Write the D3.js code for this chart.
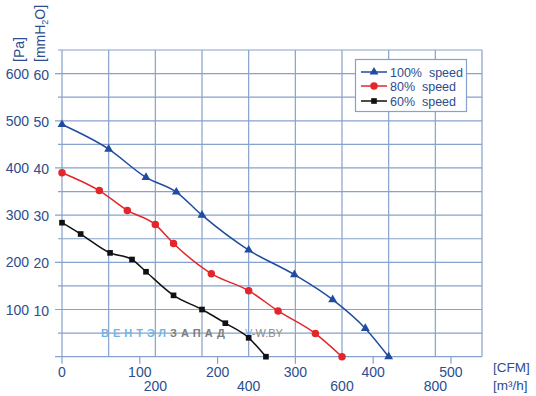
<!DOCTYPE html>
<html>
<head>
<meta charset="utf-8">
<script src="https://cdn.jsdelivr.net/npm/d3@7"></script>
<style>
  body { margin: 0; background: #fff; }
  svg { font-family: "Liberation Sans", Arial, sans-serif; }
</style>
</head>
<body>
<script>
// flow in m3/h, pressure in Pa
var flow100 = [0, 100, 180, 245, 300, 400, 498, 580, 650, 700];
var pres100 = [492, 440, 380, 349, 300, 226, 174, 121, 60, 0];
var flow80 = [0, 80, 140, 200, 239, 320, 400, 463, 543, 600];
var pres80 = [390, 352, 310, 280, 240, 176, 140, 97, 49, 0];
var flow60 = [0, 40, 103, 150, 180, 239, 300, 350, 400, 437];
var pres60 = [284, 260, 220, 206, 180, 130, 100, 71, 40, 0];

var paTicks = [100, 200, 300, 400, 500, 600];
var mmTicks = [10, 20, 30, 40, 50, 60];
var cfmTicks = [0, 100, 200, 300, 400, 500];
var m3hTicks = [200, 400, 600, 800];
var legendNames = ["100%  speed", "80%  speed", "60%  speed"];

var m3hPerCfm = 1.667;
var textColor = "#2c4d8e";
var gridColor = "#86a1cb";

var width = 536, height = 396;
var svg = d3.select("body").append("svg").attr("width", width).attr("height", height);

var x = d3.scaleLinear().domain([0, 900]).range([62, 482]);
var y = d3.scaleLinear().domain([0, 650]).range([356.7, 50]);

// grid
var grid = svg.append("g").attr("stroke", gridColor).attr("stroke-width", 1.2);
grid.selectAll(".v").data(d3.range(0, 901, 100)).enter().append("line")
    .attr("x1", function (d) { return x(d); }).attr("x2", function (d) { return x(d); })
    .attr("y1", y(650)).attr("y2", y(0));
grid.selectAll(".h").data(d3.range(0, 651, 50)).enter().append("line")
    .attr("x1", function (d) { return d % 100 === 0 ? 55 : 58; }).attr("x2", x(900))
    .attr("y1", function (d) { return y(d); }).attr("y2", function (d) { return y(d); });
grid.selectAll(".cfm").data(cfmTicks).enter().append("line")
    .attr("x1", function (d) { return x(d * m3hPerCfm); }).attr("x2", function (d) { return x(d * m3hPerCfm); })
    .attr("y1", y(0)).attr("y2", y(0) + 7);

// axis labels
var lbl = svg.append("g").attr("fill", textColor).attr("font-size", 14);
lbl.selectAll(".pa").data(paTicks).enter().append("text")
    .attr("x", 29).attr("y", function (d) { return y(d) + 5; })
    .attr("text-anchor", "end").text(function (d) { return d; });
lbl.selectAll(".mm").data(mmTicks).enter().append("text")
    .attr("x", 49).attr("y", function (d, i) { return y(paTicks[i]) + 6; })
    .attr("text-anchor", "end").text(function (d) { return d; });
lbl.selectAll(".cf").data(cfmTicks).enter().append("text")
    .attr("x", function (d) { return x(d * m3hPerCfm); }).attr("y", 377)
    .attr("text-anchor", "middle").text(function (d) { return d; });
lbl.selectAll(".m3").data(m3hTicks).enter().append("text")
    .attr("x", function (d) { return x(d); }).attr("y", 391)
    .attr("text-anchor", "middle").text(function (d) { return d; });

lbl.append("text").attr("transform", "translate(24,62) rotate(-90)").text("[Pa]");
var mmt = lbl.append("text").attr("transform", "translate(45,62) rotate(-90)");
mmt.append("tspan").text("[mmH");
mmt.append("tspan").attr("font-size", 9).attr("dy", 3).text("2");
mmt.append("tspan").attr("dy", -3).text("O]");
lbl.append("text").attr("x", 493).attr("y", 372).attr("font-size", 13.5).text("[CFM]");
lbl.append("text").attr("x", 493).attr("y", 390).attr("font-size", 13.5).text("[m\u00b3/h]");

// watermark
var wm = svg.append("text").attr("x", 101).attr("y", 337).attr("font-size", 11)
    .attr("font-weight", "bold").attr("letter-spacing", 4);
wm.append("tspan").attr("fill", "#74b4e4").text("ВЕНТЭЛ");
wm.append("tspan").attr("fill", "#7d7d7d").text("ЗАПАД");
var wm2 = svg.append("text").attr("x", 245).attr("y", 337).attr("font-size", 11);
wm2.append("tspan").attr("fill", "#74b4e4").text("V");
wm2.append("tspan").attr("fill", "#8a8a8a").text("-W.BY");

// curves
var series = [
    { flow: flow100, pres: pres100, color: "#1f4c9e", symbol: d3.symbolTriangle, size: 34 },
    { flow: flow80, pres: pres80, color: "#e3262b", symbol: d3.symbolCircle, size: 44 },
    { flow: flow60, pres: pres60, color: "#111111", symbol: d3.symbolSquare, size: 32 }
];
var line = d3.line().curve(d3.curveMonotoneX)
    .x(function (d) { return x(d[0]); }).y(function (d) { return y(d[1]); });

series.forEach(function (s) {
    var pts = d3.zip(s.flow, s.pres);
    svg.append("path").datum(pts).attr("d", line)
        .attr("fill", "none").attr("stroke", s.color).attr("stroke-width", 1.5);
    svg.selectAll(null).data(pts).enter().append("path")
        .attr("d", d3.symbol().type(s.symbol).size(s.size))
        .attr("transform", function (d) { return "translate(" + x(d[0]) + "," + y(d[1]) + ")"; })
        .attr("fill", s.color);
});

// legend
var lg = svg.append("g");
lg.append("rect").attr("x", 355.5).attr("y", 59.5).attr("width", 111).attr("height", 52)
    .attr("fill", "#fff").attr("stroke", gridColor).attr("stroke-width", 1.2);
var items = lg.selectAll(".it").data(series).enter().append("g")
    .attr("transform", function (d, i) { return "translate(0," + [72, 86, 101][i] + ")"; });
items.append("line").attr("x1", 361).attr("x2", 387)
    .attr("stroke", function (d) { return d.color; }).attr("stroke-width", 1.5);
items.append("path")
    .attr("d", function (d) { return d3.symbol().type(d.symbol).size(d.size)(); })
    .attr("transform", "translate(374,0)")
    .attr("fill", function (d) { return d.color; });
items.append("text").attr("x", 390).attr("y", 4.5).attr("font-size", 12.5)
    .attr("fill", textColor).style("white-space", "pre")
    .text(function (d, i) { return legendNames[i]; });
</script>
</body>
</html>
